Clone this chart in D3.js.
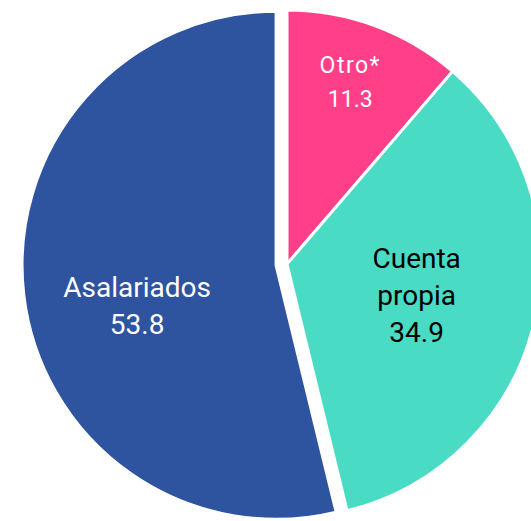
<!DOCTYPE html>
<html>
<head>
<meta charset="utf-8">
<script src="https://cdn.jsdelivr.net/npm/d3@7"></script>
<style>
  body { margin: 0; background: #fff; }
  svg { display: block; }
</style>
</head>
<body>
<svg id="pie" width="531" height="521"></svg>
<script>
// data (share, %)
let categories = ["Otro*", "Cuenta propia", "Asalariados"];
let values = [11.3, 34.9, 53.8];
let colors = ["#FF3F87", "#4ADBC5", "#2E539F"];
let textColors = ["#ffffff", "#000000", "#ffffff"];

let svg = d3.select("#pie"),
    width = +svg.attr("width"),
    height = +svg.attr("height");

let cx = 287, cy = 264, radius = 254;

// per slice label look: radius fraction, angle shift (deg), font size, line height
let labelStyle = [
    {k: 0.76, shift: -1.2, size: 23, lh: 34, spacing: 1.5},
    {k: 0.525, shift: 0, size: 28, lh: 37, spacing: 0},
    {k: 0.57, shift: -9.5, size: 28, lh: 37, spacing: 0}
];
let explode = [0, 0, 11];

let dataArr = categories.map((c, i) => ({name: c, share: values[i], i: i}));

let pie = d3.pie().sort(null).value(d => d.share);
let arcs = pie(dataArr);

let path = d3.arc().outerRadius(radius).innerRadius(0);

let g = svg.append("g").attr("transform", `translate(${cx}, ${cy})`);

function offset(d) {
    let mid = (d.startAngle + d.endAngle) / 2;
    let e = explode[d.data.i];
    return [Math.sin(mid) * e, -Math.cos(mid) * e];
}

let slice = g.selectAll("g.slice")
    .data(arcs)
    .enter()
    .append("g")
    .attr("class", "slice")
    .attr("transform", d => "translate(" + offset(d) + ")");

slice.append("path")
    .attr("d", path)
    .attr("fill", d => colors[d.data.i])
    .attr("stroke", "#fff")
    .attr("stroke-width", 3)
    .attr("stroke-linejoin", "round");

slice.each(function(d) {
    let st = labelStyle[d.data.i];
    let mid = (d.startAngle + d.endAngle) / 2 + st.shift * Math.PI / 180;
    let r = radius * st.k;
    let lx = Math.sin(mid) * r, ly = -Math.cos(mid) * r;
    let lines = d.data.name.split(" ").concat([d3.format(".1f")(d.data.share)]);
    let first = ly - (lines.length - 1) * st.lh / 2 + st.size * 0.355;
    let t = d3.select(this).append("text")
        .attr("text-anchor", "middle")
        .style("font-family", "Roboto, 'Noto Sans', sans-serif")
        .style("font-size", st.size + "px")
        .attr("fill", textColors[d.data.i]);
    lines.forEach((ln, j) => {
        t.append("tspan")
            .attr("x", lx)
            .attr("y", first + j * st.lh)
            .style("letter-spacing", j == 0 && st.spacing ? st.spacing + "px" : null)
            .text(ln);
    });
});
</script>
</body>
</html>
